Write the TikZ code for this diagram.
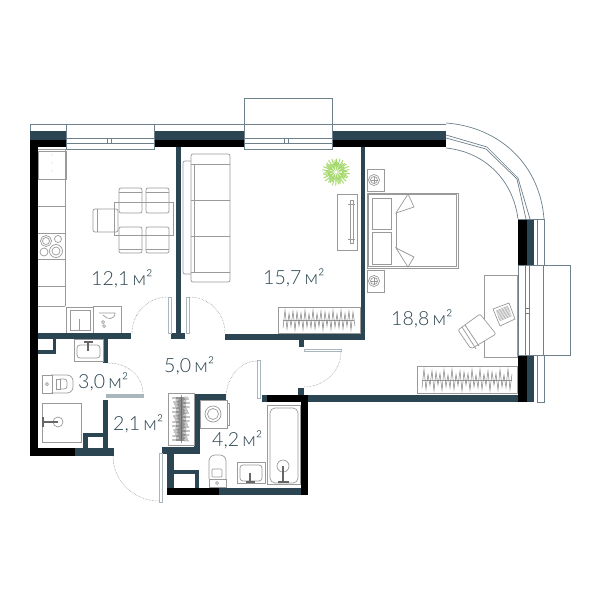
\documentclass[tikz,border=0pt]{standalone}
\usepackage{xcolor}
\usepackage{fontspec}
\setmainfont{Lato Light}
\usetikzlibrary{positioning,calc}
\definecolor{wallteal}{HTML}{2C4552}
\definecolor{frameline}{HTML}{6E808A}
\definecolor{furnline}{HTML}{9A9A9A}
\definecolor{leafline}{HTML}{A9B6BC}
\definecolor{planttone}{HTML}{A5D86A}

\tikzset{
  tealwall/.style={fill=wallteal, draw=none},
  blackwall/.style={fill=black, draw=none},
  frame/.style={draw=frameline, fill=white, line width=0.7pt},
  furn/.style={draw=furnline, line width=0.7pt},
  furnfill/.style={draw=furnline, fill=white, line width=0.7pt},
  doorleaf/.style={draw=leafline, fill=white, line width=0.8pt},
  swing/.style={draw=gray, densely dotted, line width=0.5pt},
  area/.style={text=wallteal, font=\fontsize{19.5}{19.5}\selectfont, inner sep=0pt},
  tapbar/.style={draw=gray!80!black, line width=1.6pt}
}

\begin{document}
\begin{tikzpicture}[x=1pt, y=-1pt]
\useasboundingbox[fill=white] (0,0) rectangle (600,600);

% outer strips
\draw[frame] (30,124) rectangle (446,131);
\draw[frame] (537,219) rectangle (544,402);

% top wall
\fill[tealwall] (30,131) rectangle (446,140);
\fill[blackwall] (30,140) rectangle (446,147);
% right wall
\fill[blackwall] (518,219) rectangle (527,402);
\fill[tealwall] (527,219) rectangle (534,402);
% left wall
\fill[blackwall] (30,140) rectangle (38,456);
\fill[blackwall] (30,448) rectangle (75,456);
\fill[tealwall] (75,448) rectangle (113.5,456);
% kitchen and bathroom walls
\fill[tealwall] (38,333) rectangle (131,339);
\fill[tealwall] (38,339) rectangle (56,354);
\fill[white] (38,339) rectangle (53,350);
\fill[tealwall] (103,339) rectangle (108,363);
\fill[tealwall] (103,400) rectangle (108,448);
\fill[tealwall] (83,433) rectangle (108,448);
\fill[white] (88,437) rectangle (103,448);
% partitions
\fill[tealwall] (175.5,147) rectangle (181,339);
\fill[tealwall] (171,333) rectangle (185,339);
\fill[tealwall] (361,147) rectangle (365,340);
\fill[tealwall] (225,334) rectangle (365,340);
\fill[tealwall] (299,340) rectangle (304,347);
% lower wall of the bedroom
\fill[tealwall] (298,388) rectangle (304,395);
\fill[tealwall] (262,395) rectangle (518,402);
\fill[blackwall] (267,395) rectangle (308,402);
\fill[blackwall] (301,395) rectangle (308,495);
% wc block
\fill[tealwall] (194,394) rectangle (226,400);
\fill[tealwall] (194,394) rectangle (200,454);
\fill[tealwall] (162,447) rectangle (200,454);
\fill[tealwall] (167,447) rectangle (174,488);
\fill[tealwall] (174,470) rectangle (199,474);
\fill[tealwall] (195,470) rectangle (199,488);
\fill[blackwall] (167,488) rectangle (219,495);
\fill[tealwall] (219,488) rectangle (301,495);

% curved bay
\fill[white] (446,123) .. controls (500,127) and (540,165) .. (544,219)
  -- (518,219) .. controls (513,180) and (485,152) .. (446,148) -- cycle;
\draw[frame, fill=none] (446,123) .. controls (500,127) and (540,165) .. (544,219);
\draw[frame, fill=none] (446,148) .. controls (485,152) and (513,180) .. (518,219);
\draw[frame, fill=none] (446,135) -- (487,147) -- (518,178) -- (530,219);
\draw[frame, fill=none] (446,138) -- (486,149) -- (517,179) -- (526,219);
\draw[frame, fill=none] (518,219) -- (544,219);

% balconies and windows
\draw[frame] (244,98) rectangle (332,124);
\foreach \wx/\wc in {66/107, 244/284}{
  \draw[frame] (\wx,124) rectangle ({\wx+88},149);
  \draw[frame] (\wx,138) -- ({\wx+88},138);
  \draw[frame] (\wx,143) -- ({\wx+88},143);
  \draw[frame] (\wc,138) rectangle ({\wc+4.5},143);
}
\draw[frame] (518,265) rectangle (543,355);
\draw[frame] (543,265) rectangle (570,355);
\draw[frame] (525,265) -- (525,355);
\draw[frame] (529,265) -- (529,355);
\draw[frame] (525,308) rectangle (529,313);

% doors
\draw[doorleaf] (168,297) rectangle (171,333);
\draw[doorleaf] (186,297) rectangle (189,333);
\draw[doorleaf, fill=leafline] (106,394.5) rectangle (143,397.5);
\draw[doorleaf] (159,453) rectangle (162,502);
\draw[doorleaf] (257,360) rectangle (260,398);
\draw[doorleaf] (304,349) rectangle (341,351.5);
\draw[swing] (132,333) .. controls (132,313) and (148,297) .. (168,297);
\draw[swing] (189,297) .. controls (209,297) and (225,313) .. (225,333);
\draw[swing] (108,363) .. controls (128,363) and (143,376) .. (143,394);
\draw[swing] (113,456) .. controls (113,481) and (134,501) .. (159,501);
\draw[swing] (257,361) .. controls (240,361) and (226,378) .. (226,398);
\draw[swing] (341,352) .. controls (341,371) and (324,387) .. (304,387);

% kitchen counter
\draw[furn] (38,149) -- (65,149) -- (65,306);
\draw[furn] (38,151) rectangle (66,179);
\foreach \cy in {206,233,259,286,306}{
  \draw[furn] (38,\cy) -- (65,\cy);
}
\foreach \sy in {157,165,173}{
  \node[text=furnline, font=\tiny, inner sep=0pt] (hood\sy) at (52,\sy) {*};
}
\foreach \cx/\cy/\cr in {46/241/5.5, 46/241/3.5, 58/239/3.5, 44/252/4, 56/251/6.5, 56/251/4}{
  \draw[furn] (\cx,\cy) circle (\cr);
}
\draw[furnfill] (66,307) rectangle (93,333);
\draw[furn] (70,310) rectangle (90,330);
\draw[furn] (79,319) -- (79,330);
\draw[furnfill] (93,306) rectangle (121,333);
\draw[furn] (99,313) -- (115,313) .. controls (115,320) and (107,320) .. (103,315);
\draw[furn] (103,322) circle (1.5);
\draw[furn] (104,326) circle (1.5);
\fill[tealwall] (38,333) rectangle (131,339);

% dining set
\draw[furn] (114,202) rectangle (173,235);
\foreach \sx in {119,146}{
  \draw[furn, rounded corners=2pt] (\sx,188) rectangle ++(23,25);
  \draw[furn] (\sx,192) -- ++(23,0);
  \draw[furn, rounded corners=2pt] (\sx,227) rectangle ++(23,26);
  \draw[furn] (\sx,249) -- ++(23,0);
}
\draw[furn, rounded corners=2pt] (93,209) rectangle (118,232);
\draw[furn] (97,209) -- (97,232);

% sofa
\draw[furn, rounded corners=2pt] (183,161) rectangle (194,274);
\draw[furnfill, rounded corners=2pt] (191,154) rectangle (230,282);
\draw[furn] (194,164) -- (194,272);
\foreach \sy in {164,200,236,272}{
  \draw[furn] (191,\sy) -- (230,\sy);
}

% plant
\foreach \pa in {0,7,...,359}{
  \draw[planttone, line width=0.9pt] (336,172) -- ++({\pa}:{8+6*abs(sin(\pa*11))});
}
\foreach \pa in {5,37,...,359}{
  \draw[white, line width=0.5pt] (336,172) -- ++({\pa}:6);
}

% media unit
\draw[furn] (337,194) rectangle (357,250);
\draw[furn] (350,200) rectangle (353,243);
\draw[furn] (348,204) -- (355,204);
\draw[furn] (348,239) -- (355,239);

% wardrobes
\draw[furn] (278,307) rectangle (360,333);
\draw[furn] (283,320) -- (354,320);
\draw[draw=gray, line width=0.5pt] plot[domain=0:36, samples=37] ({283+2*\x}, {320+cos(\x*180)*(8+2*sin(\x*77))});
\draw[furn] (417,366) rectangle (517,393);
\draw[furn] (422,380) -- (512,380);
\draw[draw=gray, line width=0.5pt] plot[domain=0:45, samples=46] ({422+2*\x}, {380+cos(\x*180)*(8+3*sin(\x*77))});
\draw[furn, line width=1pt] (168,393) rectangle (194,445);
\draw[furn] (181,395) -- (181,443);
\draw[draw=gray!70!black, line width=0.5pt] plot[domain=0:44, samples=45] ({181+cos(\x*180)*(7+2*sin(\x*77))}, {397+\x});

% bedroom
\draw[furn] (367,169) rectangle (384,191);
\draw[furn] (367,270) rectangle (384,292);
\foreach \ly in {180,281}{
  \draw[furn] (374,\ly) circle (5.5);
  \draw[furn] (374,\ly) circle (3.5);
  \draw[furn] (370.5,\ly) -- (377.5,\ly);
  \draw[furn] (374,\ly-3.5) -- (374,\ly+3.5);
}
\draw[furn] (367,193) rectangle (458,268);
\draw[furn] (368.5,194.5) rectangle (456.5,266.5);
\draw[furn] (372,198) rectangle (391,229);
\draw[furn] (372,232) rectangle (391,264);
\draw[furn] (396,213) -- (396,248);
\draw[furn] (396,213) -- (408,194) -- (414,207) -- cycle;
\draw[furn] (396,248) -- (414,257) -- (408,267) -- cycle;

% desk and chair
\draw[furn] (484,275) rectangle (517,357);
\draw[furnfill] (493,309) -- (509,303) -- (515,319) -- (500,326) -- cycle;
\foreach \kt in {0,0.1,...,1}{
  \draw[furn, line width=0.4pt] ($(496,311)!\kt!(500,322)$) -- ($(508,306)!\kt!(512,317)$);
}
\draw[furnfill, rounded corners=2pt] (458,330) -- (480,314) -- (496,334) -- (471,349) -- cycle;
\draw[furn] (462,327) -- (476,349);
\draw[furn] (465,325) -- (479,346);

% bathroom fittings
\draw[furnfill] (74,339) rectangle (103,361);
\draw[furn, rounded corners=3pt] (77,345) rectangle (100,358);
\draw[tapbar] (88,342) -- (88,351);
\draw[tapbar] (84,342) -- (93,342);
\draw[furn] (42,375) rectangle (52,393);
\draw[furn] (47,384) circle (1.5);
\draw[furn, rounded corners=6pt] (51,375) -- (73,375) -- (73,393) -- (51,393);
\draw[furn] (56,379) rectangle (60,389);
\draw[furn, rounded corners=3pt] (60,379) -- (67,379) -- (67,389) -- (60,389);
\draw[furn] (42,403) rectangle (81,442);
\draw[furn] (58,422) circle (5);
\draw[tapbar] (43,422) -- (58,422);
\draw[tapbar] (43,417) -- (43,427);

\draw[furnfill] (200,400) rectangle (227,428);
\draw[furn] (227,403) -- (229,403) -- (229,425) -- (227,425);
\draw[furn] (213,414) circle (8);
\draw[furn] (213,414) circle (5.5);

\draw[furn] (267,405) rectangle (300,484);
\draw[furn, rounded corners=5pt] (270,408) rectangle (298,483);
\draw[furn] (283,466) circle (6);
\draw[tapbar] (283,466) -- (283,482);
\draw[tapbar] (278,482) -- (289,482);

\draw[furn] (237,462) rectangle (265,483);
\draw[furn, rounded corners=3pt] (240,465) rectangle (262,481);
\draw[tapbar] (250,473) -- (250,482);
\draw[tapbar] (246,482) -- (255,482);

\draw[furn] (209,479) rectangle (226,487);
\draw[furn] (217,483) circle (1.5);
\draw[furn, rounded corners=6pt] (209,479) -- (209,455) -- (226,455) -- (226,479);
\draw[furn, rounded corners=1pt] (212,469) rectangle (222,477);

% areas
\node[area, anchor=base west] (kitchenarea) at (91,285) {12,1\,м²};
\node[area, anchor=base west] (livingarea) at (263,284) {15,7\,м²};
\node[area, anchor=base west] (bedarea) at (391,325) {18,8\,м²};
\node[area, anchor=base west] (hallarea) at (164,372) {5,0\,м²};
\node[area, anchor=base west] (batharea) at (78,388) {3,0\,м²};
\node[area, anchor=base west] (closetarea) at (113,430) {2,1\,м²};
\node[area, anchor=base west] (wcarea) at (212,446) {4,2\,м²};
\end{tikzpicture}
\end{document}
